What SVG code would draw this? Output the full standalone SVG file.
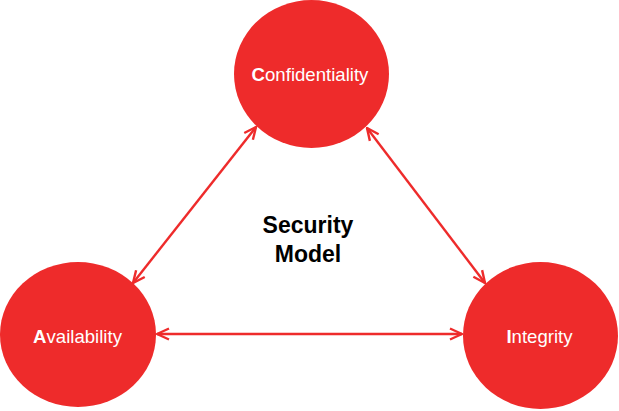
<svg xmlns="http://www.w3.org/2000/svg" width="619" height="411" viewBox="0 0 619 411">
<defs>
<style>
.node{fill:#EE2B2B}
.lbl{font-family:"Liberation Sans",Arial,sans-serif;font-size:18.6px;fill:#fff;text-anchor:middle}
.lbl tspan.b{font-weight:bold}
.conn{stroke:#EE2B2B;stroke-width:2.4;fill:none;marker-start:url(#ah);marker-end:url(#ah)}
.title{font-family:"Liberation Sans",Arial,sans-serif;font-size:23px;font-weight:bold;fill:#000;text-anchor:middle}
</style>
<marker id="ah" viewBox="0 0 14 14" refX="13" refY="7" markerWidth="14" markerHeight="14" markerUnits="userSpaceOnUse" orient="auto-start-reverse">
<path d="M1,1.5 L13,7 L1,12.5" fill="none" stroke="#EE2B2B" stroke-width="2.4"/>
</marker>
</defs>
<rect width="619" height="411" fill="#fff"/>
<g id="connectors">
<line class="conn" x1="256" y1="127" x2="133" y2="283"/>
<line class="conn" x1="367" y1="128" x2="485" y2="283"/>
<line class="conn" x1="157" y1="334" x2="462" y2="334"/>
</g>
<g id="confidentiality">
<ellipse class="node" cx="311.5" cy="74" rx="77.5" ry="74"/>
<text class="lbl" x="310" y="81"><tspan class="b">C</tspan>onfidentiality</text>
</g>
<g id="availability">
<ellipse class="node" cx="78" cy="334.5" rx="78" ry="72.5"/>
<text class="lbl" x="77.5" y="343"><tspan class="b">A</tspan>vailability</text>
</g>
<g id="integrity">
<ellipse class="node" cx="540.5" cy="335.5" rx="77.5" ry="73.5"/>
<text class="lbl" x="539.5" y="343"><tspan class="b">I</tspan>ntegrity</text>
</g>
<g id="center-label">
<text class="title" x="308" y="233">Security</text>
<text class="title" x="308" y="262">Model</text>
</g>
</svg>
